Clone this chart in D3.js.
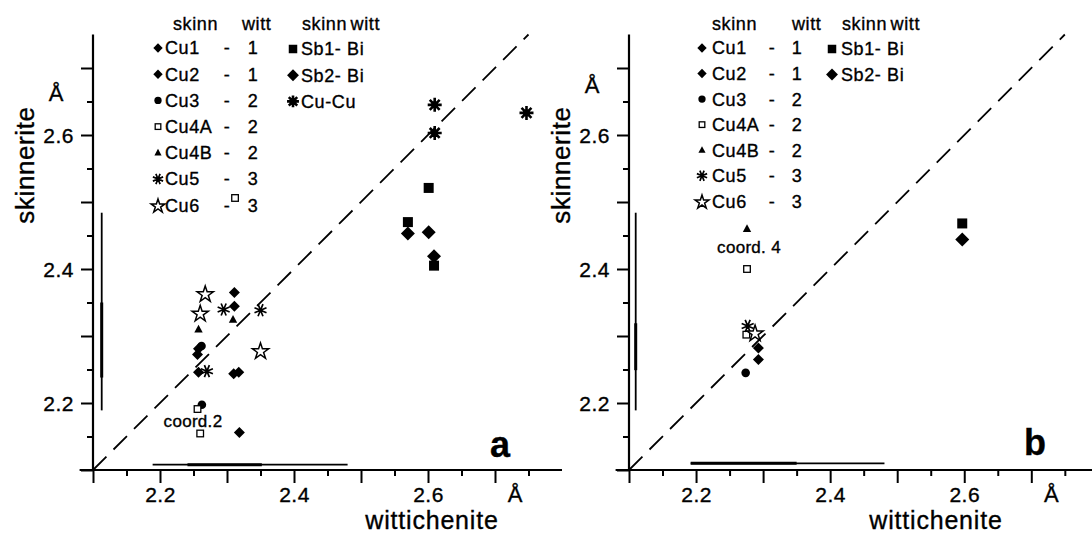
<!DOCTYPE html>
<html>
<head>
<meta charset="utf-8">
<script src="https://cdn.jsdelivr.net/npm/d3@7"></script>
<style>
  body { margin: 0; background: #fff; }
  svg { font-family: "Liberation Sans", Arial, Helvetica, sans-serif; }
  svg text { stroke: #000; stroke-width: 0.35px; fill: #000; }
</style>
</head>
<body>
<div id="chart"></div>
<script>
////////////////////////////////////////////////////////////////
// Data (bond lengths in Å, x = wittichenite, y = skinnerite)

// panel a
var cu1A = [[2.311, 2.365], [2.2575, 2.281], [2.310, 2.2435], [2.3185, 2.156]];
var cu2A = [[2.311, 2.3445], [2.256, 2.2725], [2.2575, 2.246], [2.3175, 2.246]];
var cu3A = [[2.262, 2.285], [2.2625, 2.1975]];
var cu4aA = [[2.256, 2.191], [2.260, 2.1545], [2.312, 2.506]];
var cu4bA = [[2.309, 2.3245], [2.2575, 2.310]];
var cu5A = [[2.295, 2.3395], [2.350, 2.3385], [2.270, 2.2475]];
var cu6A = [[2.2675, 2.3635], [2.260, 2.3345], [2.350, 2.2785]];
var sb1A = [[2.601, 2.521], [2.570, 2.470], [2.609, 2.405]];
var sb2A = [[2.570, 2.453], [2.601, 2.455], [2.609, 2.419]];
var cucuA = [[2.610, 2.645], [2.610, 2.603], [2.747, 2.633]];

// panel b
var cu1B = [[2.293, 2.282]];
var cu2B = [[2.293, 2.265]];
var cu3B = [[2.274, 2.245]];
var cu4aB = [[2.275, 2.302], [2.276, 2.400]];
var cu4bB = [[2.276, 2.460]];
var cu5B = [[2.277, 2.315]];
var cu6B = [[2.288, 2.305]];
var sb1B = [[2.597, 2.468]];
var sb2B = [[2.597, 2.444]];

// error bars: [position, from, to, thickFrom, thickTo]
var vBarA = [2.113, 2.189, 2.484, 2.238, 2.350];
var hBarA = [2.108, 2.189, 2.480, 2.241, 2.352];
var vBarB = [2.110, 2.189, 2.484, 2.249, 2.319];
var hBarB = [2.110, 2.192, 2.481, 2.192, 2.350];

// legend
var legendCu = [["diamond", "Cu1", "1"], ["diamond", "Cu2", "1"], ["circle", "Cu3", "2"],
                ["square", "Cu4A", "2"], ["triangle", "Cu4B", "2"], ["asterisk", "Cu5", "3"],
                ["star", "Cu6", "3"]];
var legendSbA = [["bsquare", "Sb1- Bi"], ["bdiamond", "Sb2- Bi"], ["burst", "Cu-Cu"]];
var legendSbB = [["bsquare", "Sb1- Bi"], ["bdiamond", "Sb2- Bi"]];

var tickMajor = [2.1, 2.2, 2.3, 2.4, 2.5, 2.6, 2.7];
var tickMinor = [2.15, 2.25, 2.35, 2.45, 2.55, 2.65, 2.75];
var tickLabels = [2.2, 2.4, 2.6];

////////////////////////////////////////////////////////////////
// SVG

var svg = d3.select("#chart").append("svg")
    .attr("width", 1092)
    .attr("height", 533);

// marker drawing
function marker(g, type, x, y, legend) {
    var s = legend ? 0.85 : 1;
    if (type === "diamond" || type === "bdiamond") {
        var r = (type === "diamond" ? 5.5 : 7) * s;
        g.append("path").attr("d", `M${x},${y - r}L${x + r},${y}L${x},${y + r}L${x - r},${y}Z`)
            .attr("fill", "#000");
    } else if (type === "circle") {
        g.append("circle").attr("cx", x).attr("cy", y).attr("r", 4.3 * s).attr("fill", "#000");
    } else if (type === "square") {
        var h = 3.3 * s;
        g.append("rect").attr("x", x - h).attr("y", y - h).attr("width", 2 * h).attr("height", 2 * h)
            .attr("fill", "#fff").attr("stroke", "#000").attr("stroke-width", 1.3);
    } else if (type === "bsquare") {
        var h2 = 5 * s;
        g.append("rect").attr("x", x - h2).attr("y", y - h2).attr("width", 2 * h2).attr("height", 2 * h2)
            .attr("fill", "#000");
    } else if (type === "triangle") {
        var t = 4.2 * s;
        g.append("path").attr("d", `M${x},${y - t * 1.1}L${x + t},${y + t * 0.75}L${x - t},${y + t * 0.75}Z`)
            .attr("fill", "#000");
    } else if (type === "star") {
        g.append("path")
            .attr("d", d3.symbol(d3.symbolStar, 82 * s * s)())
            .attr("transform", `translate(${x},${y + 1})`)
            .attr("fill", "#fff").attr("stroke", "#000").attr("stroke-width", 1.5);
    } else if (type === "asterisk" || type === "burst") {
        var ra = (type === "asterisk" ? 6.5 : 7) * s;
        var p = "";
        for (var i = 0; i < 8; i++) {
            var a = i * Math.PI / 4 + (type === "asterisk" ? Math.PI / 8 : 0);
            p += `M${x},${y}L${x + ra * Math.cos(a)},${y + ra * Math.sin(a)}`;
        }
        g.append("path").attr("d", p).attr("stroke", "#000")
            .attr("stroke-width", type === "asterisk" ? 1.7 : 2.6).attr("fill", "none");
        if (type === "burst") g.append("circle").attr("cx", x).attr("cy", y).attr("r", 3.5).attr("fill", "#000");
    }
}

function drawPanel(opt) {
    var x = d3.scaleLinear().domain(opt.xDomain).range(opt.xRange);
    var y = d3.scaleLinear().domain([2.1, 2.75]).range([470, 34.5]);
    var g = svg.append("g");

    // axis lines
    g.append("line").attr("x1", x(2.08)).attr("x2", opt.xRange[1]).attr("y1", y(2.1)).attr("y2", y(2.1))
        .attr("stroke", "#000").attr("stroke-width", 2.2);
    g.append("line").attr("x1", x(2.1)).attr("x2", x(2.1)).attr("y1", y(2.1)).attr("y2", y(2.75))
        .attr("stroke", "#000").attr("stroke-width", 2.2);

    // ticks
    var fmt = d => tickLabels.indexOf(d) >= 0 ? d3.format(".1f")(d) : "";
    var xMaj = g.append("g").attr("transform", `translate(0,${y(2.1)})`)
        .call(d3.axisBottom(x).tickValues(tickMajor).tickSize(13).tickFormat(fmt));
    g.append("g").attr("transform", `translate(0,${y(2.1)})`)
        .call(d3.axisBottom(x).tickValues(tickMinor).tickSize(6).tickFormat(""));
    var yMaj = g.append("g").attr("transform", `translate(${x(2.1)},0)`)
        .call(d3.axisLeft(y).tickValues(tickMajor).tickSize(12).tickFormat(fmt));
    g.append("g").attr("transform", `translate(${x(2.1)},0)`)
        .call(d3.axisLeft(y).tickValues(tickMinor.filter(d => d < 2.75)).tickSize(6).tickFormat(""));
    g.selectAll(".domain").remove();
    g.selectAll(".tick line").attr("stroke", "#000").attr("stroke-width", 2);
    xMaj.selectAll("text").attr("y", 32).attr("dy", 0).attr("font-size", 21).attr("fill", "#000")
        .attr("font-family", "Liberation Sans, Arial, sans-serif").attr("letter-spacing", 0.5);
    yMaj.selectAll("text").attr("x", -19).attr("dy", "0.36em").attr("font-size", 21).attr("fill", "#000")
        .attr("font-family", "Liberation Sans, Arial, sans-serif").attr("letter-spacing", 0.5);

    // unit labels and titles
    g.append("text").attr("x", x(2.73)).attr("y", 502).attr("text-anchor", "middle")
        .attr("font-size", 22).text("Å");
    g.append("text").attr("x", x(2.1) - 37).attr("y", opt.aY).attr("text-anchor", "middle")
        .attr("font-size", 22).text("Å");
    g.append("text").attr("x", opt.xTitle).attr("y", 529).attr("text-anchor", "middle")
        .attr("font-size", 25).attr("letter-spacing", 0.8).text("wittichenite");
    g.append("text").attr("transform", `translate(${x(2.1) - 59},165) rotate(-90)`)
        .attr("text-anchor", "middle").attr("font-size", 26).attr("letter-spacing", 0.6).text("skinnerite");
    g.append("text").attr("x", opt.letter[0]).attr("y", opt.letter[1]).attr("text-anchor", "middle")
        .attr("font-size", 36).attr("font-weight", "bold").text(opt.letterText);

    // diagonal
    g.append("path").attr("d", d3.line().x(d => x(d)).y(d => y(d))([2.1, 2.75]))
        .attr("stroke", "#000").attr("stroke-width", 1.8).attr("stroke-dasharray", "19,10").attr("fill", "none");

    // error bars
    var vb = opt.vBar, hb = opt.hBar;
    g.append("line").attr("x1", x(vb[0])).attr("x2", x(vb[0])).attr("y1", y(vb[1])).attr("y2", y(vb[2]))
        .attr("stroke", "#000").attr("stroke-width", 1.8);
    g.append("line").attr("x1", x(vb[0])).attr("x2", x(vb[0])).attr("y1", y(vb[3])).attr("y2", y(vb[4]))
        .attr("stroke", "#000").attr("stroke-width", 3);
    g.append("line").attr("y1", y(hb[0])).attr("y2", y(hb[0])).attr("x1", x(hb[1])).attr("x2", x(hb[2]))
        .attr("stroke", "#000").attr("stroke-width", 1.8);
    g.append("line").attr("y1", y(hb[0])).attr("y2", y(hb[0])).attr("x1", x(hb[3])).attr("x2", x(hb[4]))
        .attr("stroke", "#000").attr("stroke-width", 3);

    // points
    opt.series.forEach(function (s) {
        s[1].forEach(function (d) { marker(g, s[0], x(d[0]), y(d[1]), false); });
    });

    // coord note
    g.append("text").attr("x", opt.coord[0]).attr("y", opt.coord[1]).attr("text-anchor", "middle")
        .attr("dy", "0.35em").attr("font-size", 17).attr("letter-spacing", 0.3).text(opt.coordText);

    // legend
    var L = opt.leg;
    var lg = g.append("g").attr("font-size", 18).attr("letter-spacing", 0.6);
    lg.append("text").attr("x", L.head1).attr("y", 30).text("skinn");
    lg.append("text").attr("x", L.head2).attr("y", 30).text("witt");
    lg.append("text").attr("x", L.head3).attr("y", 30).attr("word-spacing", -2).text("skinn witt");
    legendCu.forEach(function (r, i) {
        var cy = 48 + i * 26.2 * L.sp;
        marker(lg, r[0], L.sym, cy, true);
        lg.append("text").attr("x", L.name).attr("y", cy).attr("dy", "0.36em").text(r[1]);
        lg.append("text").attr("x", L.dash).attr("y", cy).attr("dy", "0.36em").attr("text-anchor", "middle").text("-");
        lg.append("text").attr("x", L.num).attr("y", cy).attr("dy", "0.36em").attr("text-anchor", "middle").text(r[2]);
    });
    opt.legendSb.forEach(function (r, i) {
        var cy = 49 + i * 26.2 * L.sp;
        marker(lg, r[0], L.sym2, cy, true);
        lg.append("text").attr("x", L.name2).attr("y", cy).attr("dy", "0.36em").text(r[1]);
    });
}

drawPanel({
    xDomain: [2.1, 2.8], xRange: [93, 562], aY: 101, xTitle: 432,
    letter: [500, 457], letterText: "a",
    vBar: vBarA, hBar: hBarA,
    coord: [193, 421], coordText: "coord.2",
    series: [["diamond", cu1A], ["diamond", cu2A], ["circle", cu3A], ["square", cu4aA],
             ["triangle", cu4bA], ["asterisk", cu5A], ["star", cu6A],
             ["bsquare", sb1A], ["bdiamond", sb2A], ["burst", cucuA]],
    legendSb: legendSbA,
    leg: { head1: 173, head2: 242, head3: 302, sym: 158, name: 165, dash: 227, num: 253,
           sym2: 293, name2: 301, sp: 1 }
});

drawPanel({
    xDomain: [2.1, 2.795], xRange: [629, 1095], aY: 93, xTitle: 936,
    letter: [1035, 455], letterText: "b",
    vBar: vBarB, hBar: hBarB,
    coord: [749, 247], coordText: "coord. 4",
    series: [["diamond", cu1B], ["diamond", cu2B], ["circle", cu3B], ["square", cu4aB],
             ["triangle", cu4bB], ["asterisk", cu5B], ["star", cu6B],
             ["bsquare", sb1B], ["bdiamond", sb2B]],
    legendSb: legendSbB,
    leg: { head1: 712, head2: 792, head3: 842, sym: 702, name: 712, dash: 772, num: 797,
           sym2: 832, name2: 841, sp: 0.975 }
});
</script>
</body>
</html>
